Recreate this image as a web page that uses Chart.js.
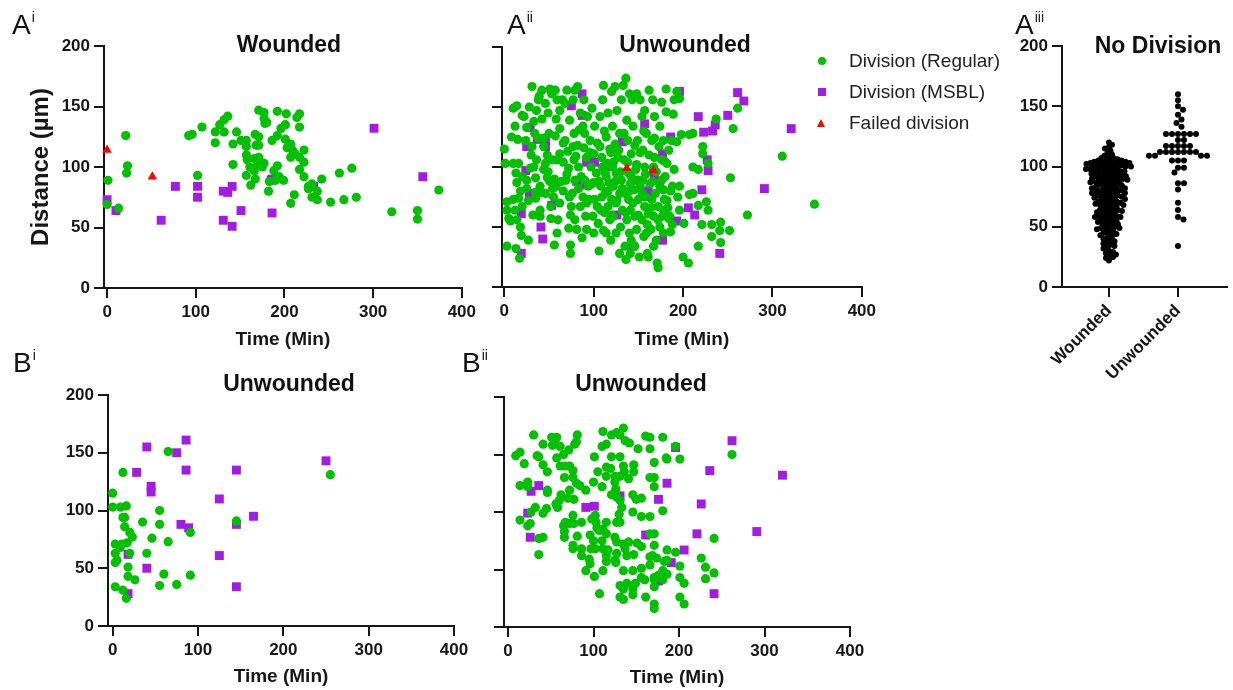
<!DOCTYPE html>
<html>
<head>
<meta charset="utf-8">
<title>Division distance vs time</title>
<script src="https://cdn.jsdelivr.net/npm/chart.js@4.4.0/dist/chart.umd.min.js"></script>
<style>
  body { margin: 0; background: #fff; font-family: "Liberation Sans", Arial, sans-serif; color: #111; }
  #fig { position: relative; width: 1233px; height: 690px; overflow: hidden; }
  #fig canvas { position: absolute; }
  .pl { position: absolute; font-size: 28px; line-height: 1; white-space: nowrap; }
  .pl sup { font-size: 14px; vertical-align: 12px; margin-left: 1px; }
  .ttl { position: absolute; font-weight: bold; font-size: 23px; line-height: 1; white-space: nowrap; transform: translate(-50%, -50%); }
  .lg { position: absolute; left: 849px; font-size: 19px; line-height: 20px; color: #222; white-space: nowrap; }
  .mk { position: absolute; }
  .mk.c { width: 8px; height: 8px; border-radius: 50%; background: #00c000; }
  .mk.s { width: 8px; height: 8px; background: #a21ce6; }
  .mk.t { width: 0; height: 0; border-left: 4.5px solid transparent; border-right: 4.5px solid transparent; border-bottom: 8px solid #ff0000; }
</style>
</head>
<body>
<div id="fig">
  <canvas id="cAi" width="480" height="355" style="left:0px;top:0px"></canvas>
  <canvas id="cAii" width="400" height="355" style="left:480px;top:0px"></canvas>
  <canvas id="cAiii" width="243" height="400" style="left:990px;top:0px"></canvas>
  <canvas id="cBi" width="480" height="340" style="left:0px;top:350px"></canvas>
  <canvas id="cBii" width="400" height="340" style="left:480px;top:350px"></canvas>

  <div class="pl" style="left:12px;top:10px">A<sup>i</sup></div>
  <div class="pl" style="left:507px;top:10px">A<sup>ii</sup></div>
  <div class="pl" style="left:1015px;top:10px">A<sup>iii</sup></div>
  <div class="pl" style="left:13px;top:348px">B<sup>i</sup></div>
  <div class="pl" style="left:462px;top:348px">B<sup>ii</sup></div>

  <div class="ttl" style="left:289px;top:44px">Wounded</div>
  <div class="ttl" style="left:685px;top:44px">Unwounded</div>
  <div class="ttl" style="left:1158px;top:45px">No Division</div>
  <div class="ttl" style="left:289px;top:383px">Unwounded</div>
  <div class="ttl" style="left:641px;top:383px">Unwounded</div>

  <span class="mk c" style="left:818px;top:57px"></span>
  <span class="mk s" style="left:818px;top:88px"></span>
  <span class="mk t" style="left:817px;top:119px"></span>
  <div class="lg" style="top:51px">Division (Regular)</div>
  <div class="lg" style="top:82px">Division (MSBL)</div>
  <div class="lg" style="top:113px">Failed division</div>
</div>

<script>
// --- données : [temps (min), distance (µm)] ---
const TIME_TICKS = [0, 100, 200, 300, 400];
const DIST_TICKS = [0, 50, 100, 150, 200];
const GROUPS = ["Wounded", "Unwounded"];

// A i - Wounded
const aiRegular = [[0,69],[1,89],[13,66],[21,126],[23,101],[22,95],[92,126],[96,127],[102,93],[107,133],[122,129],[122,120],[127,135],[132,139],[136,142],[132,129],[142,119],[142,102],[146,129],[151,122],[157,122],[157,117],[157,110],[158,106],[161,100],[157,93],[162,85],[167,90],[167,127],[171,125],[168,118],[171,118],[166,107],[171,108],[169,101],[175,100],[177,103],[166,97],[171,147],[177,145],[177,140],[180,137],[178,136],[186,122],[192,126],[192,146],[196,132],[201,135],[202,144],[214,141],[217,144],[217,133],[201,123],[203,116],[207,119],[209,114],[212,111],[207,108],[222,114],[217,108],[222,104],[192,101],[188,97],[194,92],[190,89],[199,89],[183,88],[182,80],[217,98],[222,92],[231,86],[227,84],[227,82],[237,80],[242,90],[231,75],[237,73],[211,77],[207,70],[252,71],[267,73],[262,95],[276,99],[281,75],[321,63],[350,64],[350,57],[374,81]];
const aiMsbl = [[0,73],[10,64],[61,56],[77,84],[102,84],[102,75],[131,80],[136,79],[141,84],[131,56],[141,51],[151,64],[186,62],[185,89],[186,90],[233,84],[301,132],[356,92]];
const aiFailed = [[0,114],[51,92]];

// A ii - Unwounded
const aiiRegular = [
  [0,115],[1,103],[3,71],[3,64],[3,34],[5,57],[7,55],[10,103],[10,73],[10,149],[14,151],[12,134],[15,123],[13,95],[14,87],[16,103],[13,32],[17,24],[18,80],[18,50],[19,43],[20,143],[16,74],[20,67],[14,56],[8,125],[12,64],[20,92],
  [22,142],[24,122],[25,89],[25,82],[27,72],[27,39],[29,99],[31,167],[31,117],[32,60],[33,138],[35,91],[35,79],[36,147],[36,106],[38,156],[38,124],[38,78],[39,159],[40,64],[40,59],[33,100],[25,133],[35,74],[28,150],[30,110],[34,128],[40,84],
  [42,164],[42,140],[44,124],[44,117],[46,153],[46,103],[46,78],[48,91],[49,145],[49,96],[51,165],[52,67],[52,57],[53,161],[54,106],[55,75],[56,35],[57,126],[57,164],[58,84],[59,106],[59,156],[60,56],[59,45],[51,88],[48,110],[56,90],[44,98],[50,128],[54,82],[58,140],
  [62,132],[62,147],[62,111],[64,88],[65,156],[66,104],[66,80],[68,153],[68,122],[69,89],[70,164],[71,113],[72,99],[73,139],[73,75],[72,49],[74,28],[74,35],[75,67],[76,78],[77,156],[77,117],[78,128],[79,89],[79,164],[80,109],[79,56],[81,48],[62,70],[66,120],[70,94],[74,60],[78,106],
  [82,167],[83,100],[83,82],[84,131],[85,145],[85,67],[87,41],[88,75],[89,116],[89,156],[90,89],[90,128],[91,59],[92,48],[92,108],[93,142],[94,84],[95,73],[96,122],[97,100],[98,149],[99,59],[100,45],[100,87],[100,111],[82,118],[86,92],[88,134],[92,70],[96,112],[98,86],
  [101,73],[101,134],[103,95],[104,67],[105,53],[106,30],[107,117],[107,142],[108,84],[109,108],[110,156],[111,168],[112,62],[113,95],[113,78],[114,125],[114,45],[115,103],[116,145],[116,67],[117,87],[118,56],[119,39],[119,112],[120,73],[120,163],[121,134],[121,100],[109,75],[111,47],
  [104,120],[106,88],[108,64],[110,100],[112,130],[114,92],[116,80],[118,115],[120,60],
  [122,84],[122,59],[124,167],[124,119],[125,95],[125,70],[125,45],[126,147],[127,108],[129,28],[129,78],[129,128],[130,50],[131,89],[131,156],[132,64],[133,168],[134,106],[135,34],[135,78],[136,23],[136,174],[137,139],[137,56],[138,122],[139,95],[139,73],[140,45],[140,161],[141,86],[141,28],
  [122,104],[124,88],[126,72],[128,114],[130,96],[132,82],[134,128],[136,62],[138,104],[140,80],
  [141,64],[142,111],[142,39],[143,156],[144,134],[145,81],[146,59],[146,34],[147,98],[148,161],[148,48],[149,122],[150,73],[151,25],[152,156],[152,84],[154,56],[154,142],[155,114],[156,42],[157,67],[157,100],[157,147],[158,75],[159,45],[159,128],[160,28],[161,61],[155,89],[150,89],
  [142,92],[144,70],[146,118],[148,102],[150,60],[152,112],[154,78],[156,130],[158,94],[160,52],
  [161,25],[162,164],[163,86],[164,48],[165,122],[165,73],[166,156],[167,100],[167,34],[167,59],[168,142],[168,108],[169,78],[170,39],[171,20],[172,16],[172,67],[173,117],[174,134],[174,50],[176,89],[176,154],[177,59],[178,81],[178,45],[179,105],[179,73],[181,165],[178,122],
  [162,110],[164,66],[166,88],[168,124],[170,96],[172,56],[174,84],[176,106],[178,64],[180,92],
  [181,146],[182,103],[183,66],[184,57],[185,59],[186,46],[187,122],[188,84],[189,144],[190,156],[193,121],[193,163],[194,75],[196,157],[196,64],[196,84],[198,127],[200,25],[201,53],
  [182,72],[184,114],[186,80],[188,52],[190,98],
  [206,20],[207,77],[207,127],[211,128],[211,100],[211,78],[217,98],[217,34],[221,52],[222,117],[222,111],[228,103],[228,64],[232,52],[232,42],[237,140],[241,47],[242,54],[242,37],[252,47],[253,91],[256,132],[261,149],[272,60],[311,109],[347,69],[217,68],[226,71]
];
const aiiMsbl = [[29,133],[25,117],[37,123],[46,122],[46,117],[28,78],[19,61],[19,28],[41,50],[43,40],[53,68],[24,97],[87,161],[75,151],[87,143],[92,104],[101,104],[113,100],[91,85],[81,88],[126,60],[132,121],[145,89],[144,34],[157,136],[161,80],[167,97],[168,91],[177,111],[177,39],[186,125],[193,55],[196,163],[206,66],[213,60],[217,142],[221,81],[223,129],[228,97],[227,106],[233,130],[236,135],[250,143],[261,162],[268,155],[291,82],[321,132],[241,28]];
const aiiFailed = [[137,99],[167,97]];

// A iii - No Division (distance seulement)
const noDivWounded = [120,118,116,115,113,111,110,109,108,
  107,107,106,106,105,105,105,104,104,104,103,103,103,103,
  102,102,102,101,101,101,100,100,100,100,99,99,99,98,98,98,
  97,97,97,96,96,96,95,95,94,94,94,93,93,93,
  92,92,92,91,91,90,90,90,89,89,89,88,88,88,
  87,87,86,86,86,85,85,84,84,83,83,83,
  82,82,82,81,81,80,80,80,79,79,79,78,78,78,
  77,77,76,76,76,75,75,74,74,74,73,73,
  72,72,71,71,70,70,70,69,69,68,68,68,
  67,67,66,65,65,64,64,63,63,63,
  62,62,61,60,60,59,59,58,58,58,
  57,57,56,55,55,54,54,53,53,
  52,51,50,50,49,49,48,48,
  47,46,45,44,44,43,
  42,41,40,39,38,
  37,36,35,34,33,
  32,30,29,28,27,26,25,24,22];
const noDivUnwounded = [160,155,150,147,143,139,136,133,127,127,127,127,127,127,122,122,117,117,117,117,117,112,112,112,112,112,112,112,109,109,109,109,105,105,105,99,99,95,86,86,81,70,64,58,56,34];

// B i - Unwounded
const biRegular = [[0,115],[0,103],[3,71],[3,63],[3,55],[5,57],[3,34],[12,133],[9,103],[16,104],[12,94],[14,94],[14,86],[11,71],[9,68],[17,72],[20,81],[23,77],[20,63],[18,51],[18,43],[26,40],[12,31],[16,24],[35,90],[40,63],[46,76],[55,100],[55,88],[65,73],[60,45],[55,35],[75,36],[65,151],[91,81],[91,44],[145,91],[255,131]];
const biMsbl = [[28,133],[40,155],[45,121],[45,116],[75,150],[86,161],[86,135],[80,88],[89,85],[40,50],[18,62],[18,28],[125,110],[125,61],[145,135],[145,88],[145,34],[165,95],[250,143]];

// B ii - Unwounded
const biiRegular = [[9,149],[14,152],[19,142],[30,167],[14,123],[23,126],[23,122],[34,149],[36,148],[41,159],[41,141],[46,135],[46,119],[46,117],[51,165],[55,163],[52,158],[57,147],[61,157],[57,165],[61,140],[66,130],[67,140],[65,150],[71,154],[72,140],[76,136],[76,130],[78,159],[81,167],[80,125],[84,123],[80,161],[62,115],[60,110],[56,107],[58,104],[72,119],[70,112],[77,111],[91,119],[45,103],[41,99],[32,104],[27,100],[14,93],[26,90],[23,88],[36,77],[41,78],[36,63],[67,91],[65,88],[66,83],[66,78],[76,97],[72,90],[77,90],[86,91],[81,79],[76,71],[76,68],[86,68],[86,62],[91,49],[96,80],[100,75],[97,68],[102,68],[95,59],[96,55],[101,44],[102,97],[98,94],[103,91],[104,86],[107,84],[111,85],[115,81],[110,75],[111,68],[115,62],[111,49],[115,57],[107,29],[100,126],[101,148],[105,135],[110,122],[110,157],[115,159],[111,170],[115,139],[115,131],[120,138],[121,148],[121,115],[121,167],[127,169],[131,167],[135,173],[137,162],[142,160],[152,155],[131,148],[135,140],[136,135],[141,129],[147,141],[147,135],[125,131],[125,126],[126,120],[131,131],[131,110],[127,113],[133,104],[130,98],[131,91],[127,91],[115,91],[125,78],[127,74],[135,72],[137,68],[141,74],[147,63],[151,73],[139,62],[127,64],[117,67],[125,58],[126,56],[135,49],[146,49],[156,51],[166,54],[139,38],[131,36],[135,33],[146,33],[149,38],[156,43],[160,41],[146,28],[131,26],[135,24],[161,26],[171,43],[171,41],[171,35],[171,20],[171,16],[176,45],[181,49],[183,57],[186,67],[186,58],[186,46],[181,41],[174,60],[169,62],[166,61],[156,70],[166,81],[171,71],[171,81],[156,96],[146,100],[166,96],[181,101],[146,115],[150,111],[126,115],[166,130],[171,130],[171,122],[171,143],[166,155],[166,165],[161,166],[181,165],[185,147],[186,146],[201,146],[196,157],[201,53],[201,43],[206,38],[201,26],[206,20],[196,65],[226,60],[231,52],[231,42],[241,47],[241,77],[262,150],[156,112]];
const biiMsbl = [[23,99],[26,78],[27,118],[36,123],[91,104],[101,105],[131,114],[161,80],[176,111],[186,125],[196,156],[191,56],[176,40],[206,67],[221,81],[226,107],[236,136],[241,29],[262,162],[291,83],[321,132]];

// --- styles ---
const INK = "#161616";
const GREEN = "#00c000";
const PURPLE = "#a21ce6";
const RED = "#ff0000";
Chart.defaults.font.family = "'Liberation Sans', Arial, sans-serif";
Chart.defaults.color = INK;

const GRID = { drawOnChartArea: false, drawTicks: true, tickLength: 10, tickWidth: 2, tickColor: INK, lineWidth: 2, color: INK };
const BORDER = { display: true, color: INK, width: 2 };
const TICK_FONT = { size: 17, weight: "bold" };

function marks(pts, color, style, r) {
  return {
    data: pts.map(([x, y]) => ({ x, y })),
    pointStyle: style,
    pointRadius: r,
    pointBackgroundColor: color,
    pointBorderColor: color,
    pointBorderWidth: 0,
    clip: false
  };
}

// panneau nuage de points (temps / distance)
function timePanel(id, regular, msbl, failed, o) {
  return new Chart(document.getElementById(id), {
    type: "scatter",
    data: {
      datasets: [
        marks(failed, RED, "triangle", 5.5),
        marks(regular, GREEN, "circle", 4.6),
        marks(msbl, PURPLE, "rect", 6.3)
      ]
    },
    options: {
      responsive: false,
      animation: false,
      events: [],
      layout: { padding: { top: o.padTop, right: o.padRight, left: 0, bottom: 0 } },
      plugins: { legend: { display: false }, tooltip: { enabled: false } },
      scales: {
        x: {
          type: "linear",
          min: o.xMin,
          max: 400,
          afterBuildTicks: s => { s.ticks = TIME_TICKS.map(v => ({ value: v })); },
          afterFit: s => { s.height = o.xH; },
          grid: GRID,
          border: BORDER,
          ticks: { font: TICK_FONT, color: INK, padding: 4, maxRotation: 0 },
          title: { display: true, text: "Time (Min)", color: INK, font: { size: 19, weight: "bold" }, padding: { top: 0, bottom: o.xTitlePad } }
        },
        y: {
          min: 0,
          max: 200,
          afterBuildTicks: s => { s.ticks = DIST_TICKS.map(v => ({ value: v })); },
          afterFit: s => { s.width = o.yW; },
          grid: GRID,
          border: BORDER,
          ticks: { font: TICK_FONT, color: INK, padding: 4, callback: v => (o.yLabels ? String(v) : "") },
          title: { display: !!o.yTitle, text: o.yTitle || "", color: INK, font: { size: 24, weight: "bold" }, padding: { top: 27 } }
        }
      }
    }
  });
}

timePanel("cAi", aiRegular, aiMsbl, aiFailed, { xMin: -3.5, padTop: 46, padRight: 15, xH: 67, yW: 104, xTitlePad: 4, yLabels: true, yTitle: "Distance (µm)" });
timePanel("cAii", aiiRegular, aiiMsbl, aiiFailed, { xMin: -2.6, padTop: 47, padRight: 17, xH: 68, yW: 22, xTitlePad: 4, yLabels: false });
timePanel("cBi", biRegular, biMsbl, [], { xMin: -5.5, padTop: 45, padRight: 26, xH: 64, yW: 108, xTitlePad: 2, yLabels: true });
timePanel("cBii", biiRegular, biiMsbl, [], { xMin: -4.7, padTop: 47, padRight: 30, xH: 63, yW: 24, xTitlePad: 1, yLabels: false });

// --- A iii : nuage en essaim (position x calculée pour éviter les chevauchements) ---
const CAT_MIN = 0.32, CAT_MAX = 2.71;
const AIII_W = 165, AIII_H = 241;

function swarm(values, center, gap) {
  const pxX = AIII_W / (CAT_MAX - CAT_MIN);
  const pxY = AIII_H / 200;
  const placed = [];
  return values.slice().sort((a, b) => b - a).map(v => {
    const py = v * pxY;
    let off = 0;
    for (let k = 0; k < 400; k++) {
      const c = (k % 2 ? 1 : -1) * Math.ceil(k / 2) * 0.5;
      if (placed.every(p => Math.hypot(p[0] - c, p[1] - py) >= gap)) { off = c; break; }
    }
    placed.push([off, py]);
    return { x: center + off / pxX, y: v };
  });
}

new Chart(document.getElementById("cAiii"), {
  type: "scatter",
  data: {
    datasets: [
      { data: swarm(noDivWounded, 1, 3.8), pointRadius: 3, pointBackgroundColor: "#000", pointBorderWidth: 0, clip: false },
      { data: swarm(noDivUnwounded, 2, 5.8), pointRadius: 3, pointBackgroundColor: "#000", pointBorderWidth: 0, clip: false }
    ]
  },
  options: {
    responsive: false,
    animation: false,
    events: [],
    layout: { padding: { top: 46, right: 6, left: 0, bottom: 0 } },
    plugins: { legend: { display: false }, tooltip: { enabled: false } },
    scales: {
      x: {
        type: "linear",
        min: CAT_MIN,
        max: CAT_MAX,
        afterBuildTicks: s => { s.ticks = [1, 2].map(v => ({ value: v })); },
        afterFit: s => { s.height = 113; },
        grid: GRID,
        border: BORDER,
        ticks: { font: TICK_FONT, color: INK, padding: 4, minRotation: 45, maxRotation: 45, autoSkip: false, callback: v => GROUPS[v - 1] }
      },
      y: {
        min: 0,
        max: 200,
        afterBuildTicks: s => { s.ticks = DIST_TICKS.map(v => ({ value: v })); },
        afterFit: s => { s.width = 72; },
        grid: GRID,
        border: BORDER,
        ticks: { font: TICK_FONT, color: INK, padding: 4 }
      }
    }
  }
});
</script>
</body>
</html>
